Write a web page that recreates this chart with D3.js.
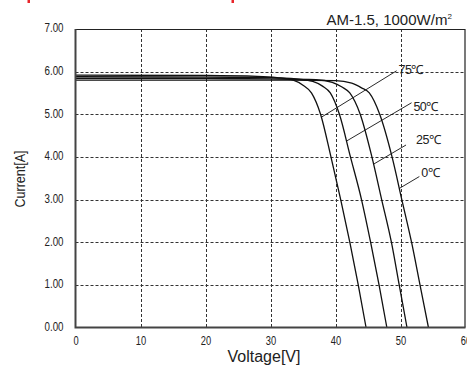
<!DOCTYPE html>
<html>
<head>
<meta charset="utf-8">
<script src="https://cdn.jsdelivr.net/npm/d3@7"></script>
<style>
  html, body { margin: 0; padding: 0; background: #fff; }
  svg { display: block; }
</style>
</head>
<body>
<div id="chart"></div>
<script>
// tick values
const voltTicks = [0, 10, 20, 30, 40, 50, 60]
const currentTicks = [0, 1, 2, 3, 4, 5, 6, 7]

// I-V curves
const temps = ['75℃', '50℃', '25℃', '0℃']
const v75 = [0, 20, 28, 31, 33.5, 35, 36.3, 37.7, 39.3, 40.8, 42.2, 43.5, 44.7]
const i75 = [5.92, 5.91, 5.89, 5.86, 5.80, 5.68, 5.50, 5.00, 4.00, 3.00, 2.00, 1.00, 0]
const v50 = [0, 20, 30, 34, 36.5, 38, 39.2, 40.6, 42.3, 44.0, 45.4, 46.7, 47.9]
const i50 = [5.88, 5.87, 5.86, 5.83, 5.77, 5.66, 5.50, 5.00, 4.00, 3.00, 2.00, 1.00, 0]
const v25 = [0, 20, 30, 37, 39.5, 41, 42.2, 43.8, 45.6, 47.1, 48.6, 49.8, 51.0]
const i25 = [5.84, 5.84, 5.83, 5.81, 5.75, 5.64, 5.50, 5.00, 4.00, 3.00, 2.00, 1.00, 0]
const v0 = [0, 20, 30, 40, 42.5, 44, 45.2, 46.8, 48.7, 50.2, 51.7, 53.0, 54.3]
const i0 = [5.80, 5.80, 5.80, 5.79, 5.73, 5.62, 5.50, 5.00, 4.00, 3.00, 2.00, 1.00, 0]

// leader lines: current where the leader meets the curve, and where it ends
const leaderAtI = [4.93, 4.37, 3.83, 3.26]
const leaderEndV = [49.4, 51.7, 50.85, 52.9]
const leaderEndI = [6.02, 5.27, 4.28, 3.54]
const labelV = [49.7, 52.0, 52.4, 53.2]
const labelI = [6.04, 5.19, 4.40, 3.63]

const width = 467
const height = 376
const padding = { top: 29, right: 1.5, bottom: 48.5, left: 75.5 }

const svg = d3.select('#chart').append('svg')
    .attr('width', width)
    .attr('height', height)

const x = d3.scaleLinear().domain([0, 60]).range([padding.left, width - padding.right])
const y = d3.scaleLinear().domain([0, 7]).range([height - padding.bottom, padding.top])

const textFont = '"Liberation Sans", Arial, sans-serif'

// red marks cut off at the top edge
svg.selectAll('rect.mark')
    .data([27.5, 231.5])
    .enter()
    .append('rect')
    .attr('class', 'mark')
    .attr('x', d => d)
    .attr('y', 0)
    .attr('width', 2.5)
    .attr('height', 3)
    .attr('fill', '#e8262b')

// grid
const grid = svg.append('g')
    .attr('stroke', '#333')
    .attr('stroke-width', 1)
    .attr('stroke-dasharray', '3,2')
grid.selectAll('line.gx')
    .data(voltTicks.slice(1, -1))
    .enter()
    .append('line')
    .attr('x1', d => Math.round(x(d)) + 0.5)
    .attr('x2', d => Math.round(x(d)) + 0.5)
    .attr('y1', y(7))
    .attr('y2', y(0))
grid.selectAll('line.gy')
    .data(currentTicks.slice(1, -1))
    .enter()
    .append('line')
    .attr('x1', x(0))
    .attr('x2', x(60))
    .attr('y1', d => Math.round(y(d)) + 0.5)
    .attr('y2', d => Math.round(y(d)) + 0.5)

// top and right border
svg.append('path')
    .attr('d', `M${x(0)},${y(7) + 0.5}H${x(60) - 0.5}V${y(0)}`)
    .attr('fill', 'none')
    .attr('stroke', '#222')
    .attr('stroke-width', 1.2)

// curves
const curves = [[v75, i75], [v50, i50], [v25, i25], [v0, i0]]
const line = d3.line()
    .x(d => x(d[0]))
    .y(d => y(d[1]))
    .curve(d3.curveMonotoneX)

svg.append('g')
    .selectAll('path')
    .data(curves)
    .enter()
    .append('path')
    .attr('d', c => line(c[0].map((v, k) => [v, c[1][k]])))
    .attr('fill', 'none')
    .attr('stroke', '#111')
    .attr('stroke-width', 1.3)

// voltage on a curve for a given current
function voltageAt (c, cur) {
    const vs = c[0]
    const is = c[1]
    for (let k = 0; k < is.length - 1; k++) {
        if (is[k] >= cur && is[k + 1] <= cur) {
            const t = (is[k] - cur) / (is[k] - is[k + 1])
            return vs[k] + t * (vs[k + 1] - vs[k])
        }
    }
    return vs[vs.length - 1]
}

// leaders + labels
const ann = svg.append('g')
temps.forEach((t, k) => {
    ann.append('line')
        .attr('x1', x(voltageAt(curves[k], leaderAtI[k])))
        .attr('y1', y(leaderAtI[k]))
        .attr('x2', x(leaderEndV[k]))
        .attr('y2', y(leaderEndI[k]))
        .attr('stroke', '#111')
        .attr('stroke-width', 0.9)
    ann.append('text')
        .attr('x', x(labelV[k]))
        .attr('y', y(labelI[k]))
        .attr('dy', '0.35em')
        .attr('font-family', textFont)
        .attr('font-size', 12.5)
        .attr('letter-spacing', -0.6)
        .attr('fill', '#222')
        .text(t)
})

// axes (the reference uses a narrow face, so squeeze the labels)
const yAxis = svg.append('g')
    .attr('transform', `translate(${padding.left},0)`)
    .call(d3.axisLeft(y).tickValues(currentTicks).tickFormat(d3.format('.2f')).tickSize(0).tickPadding(12))
yAxis.select('.domain').remove()
yAxis.selectAll('text')
    .attr('font-family', textFont)
    .attr('font-size', 12)
    .attr('fill', '#222')
    .attr('dy', '0.24em')
    .attr('textLength', 19)
    .attr('lengthAdjust', 'spacingAndGlyphs')

const xAxis = svg.append('g')
    .attr('transform', `translate(0,${height - padding.bottom})`)
    .call(d3.axisBottom(x).tickValues(voltTicks).tickFormat(d3.format('d')).tickSize(0).tickPadding(9))
xAxis.select('.domain').remove()
xAxis.selectAll('text')
    .attr('font-family', textFont)
    .attr('font-size', 12)
    .attr('fill', '#222')
    .attr('textLength', d => String(d).length * 5.2)
    .attr('lengthAdjust', 'spacingAndGlyphs')

// left and bottom axis lines
svg.append('path')
    .attr('d', `M${x(0)},${y(7)}V${y(0)}H${x(60)}`)
    .attr('fill', 'none')
    .attr('stroke', '#444')
    .attr('stroke-width', 2)

// titles
svg.append('text')
    .attr('transform', 'translate(24.5,179) rotate(-90)')
    .attr('text-anchor', 'middle')
    .attr('font-family', textFont)
    .attr('font-size', 14)
    .attr('fill', '#222')
    .attr('textLength', 57)
    .attr('lengthAdjust', 'spacingAndGlyphs')
    .text('Current[A]')

svg.append('text')
    .attr('x', 264)
    .attr('y', 361.5)
    .attr('text-anchor', 'middle')
    .attr('font-family', textFont)
    .attr('font-size', 16)
    .attr('fill', '#222')
    .text('Voltage[V]')

const title = svg.append('text')
    .attr('x', 326.5)
    .attr('y', 24.5)
    .attr('font-family', textFont)
    .attr('font-size', 15)
    .attr('fill', '#222')
title.append('tspan').text('AM-1.5, 1000W/m')
title.append('tspan')
    .attr('dy', -6)
    .attr('font-size', 8)
    .text('2')
</script>
</body>
</html>
